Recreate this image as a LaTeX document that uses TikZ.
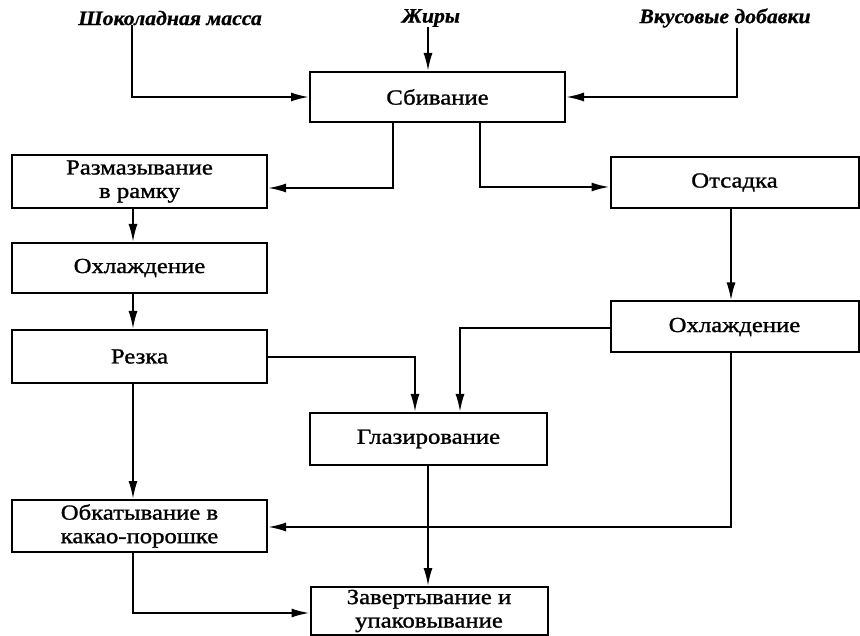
\documentclass[tikz,border=0pt]{standalone}
\usepackage{fontspec}
\setmainfont{Liberation Serif}[FakeStretch=1.12]
\newfontfamily\boxfont{Liberation Serif}[FakeStretch=1.15, FakeBold=1.2]
\newfontfamily\labelfont{Liberation Serif Bold Italic}[FakeStretch=1.06, FakeBold=0.8]
\usetikzlibrary{arrows.meta}
\begin{document}
\begin{tikzpicture}[x=1pt,y=-1pt,
  stepbox/.style={draw, line width=2pt, rectangle, inner sep=0pt, align=center,
    font=\boxfont\fontsize{21.5}{23.5}\selectfont},
  inlabel/.style={inner sep=0pt, font=\labelfont\fontsize{20.5}{22}\selectfont},
  flow/.style={line width=2pt, -{Latex[length=18pt,width=9pt]}}]
\useasboundingbox (0,0) rectangle (860,636);

% process boxes
\node[stepbox, minimum width=255pt, minimum height=50pt] (sb)   at (437.5,97)  {Сбивание};
\node[stepbox, minimum width=255pt, minimum height=53pt] (raz)  at (139.5,181.5) {Размазывание\\в рамку};
\node[stepbox, minimum width=248pt, minimum height=51pt] (ots)  at (734.5,182.5) {Отсадка};
\node[stepbox, minimum width=255pt, minimum height=50pt] (ohl1) at (139.5,268)  {Охлаждение};
\node[stepbox, minimum width=255pt, minimum height=53pt] (rez)  at (139.5,356.5) {Резка};
\node[stepbox, minimum width=248pt, minimum height=51pt] (ohl2) at (734.5,327)  {Охлаждение};
\node[stepbox, minimum width=237pt, minimum height=52pt] (gl)   at (428.5,439)  {Глазирование};
\node[stepbox, minimum width=255pt, minimum height=52pt] (obk)  at (139.5,526)  {Обкатывание в\\какао-порошке};
\node[stepbox, minimum width=237pt, minimum height=48pt] (zav)  at (429,611)    {Завертывание и\\упаковывание};

% raw materials
\node[inlabel] (m1) at (170,18) {Шоколадная масса};
\node[inlabel] (m2) at (431,18) {Жиры};
\node[inlabel] (m3) at (725,18) {Вкусовые добавки};

% bend points of the connectors
\coordinate (cL)  at (132,0);
\coordinate (cR)  at (737,0);
\coordinate (cJ)  at (428,0);
\coordinate (cS1) at (393,188);
\coordinate (cS2) at (480,187);
\coordinate (cC)  at (133,0);
\coordinate (cG1) at (415,357);
\coordinate (cG2) at (460,328);
\coordinate (cO)  at (731,527);
\coordinate (cZ)  at (133,613);
\coordinate (cZ2) at (428,0);

% inputs to whipping
\draw[flow] (m1.south -| cL) |- (sb.west);
\draw[flow] (m2.south -| cJ) -- (sb.north -| cJ);
\draw[flow] (m3.south -| cR) |- (sb.east);

% whipping outputs
\draw[flow] (sb.south -| cS1) |- (raz.east |- cS1);
\draw[flow] (sb.south -| cS2) |- (ots.west |- cS2);

% left branch
\draw[flow] (raz.south -| cC) -- (ohl1.north -| cC);
\draw[flow] (ohl1.south -| cC) -- (rez.north -| cC);
\draw[flow] (rez.east |- cG1) -| (gl.north -| cG1);
\draw[flow] (rez.south -| cC) -- (obk.north -| cC);

% right branch
\draw[flow] (ots.south -| cO) -- (ohl2.north -| cO);
\draw[flow] (ohl2.west |- cG2) -| (gl.north -| cG2);
\draw[flow] (ohl2.south -| cO) |- (obk.east |- cO);

% packing
\draw[flow] (gl.south -| cZ2) -- (zav.north -| cZ2);
\draw[flow] (obk.south -| cZ) |- (zav.west |- cZ);
\end{tikzpicture}
\end{document}
